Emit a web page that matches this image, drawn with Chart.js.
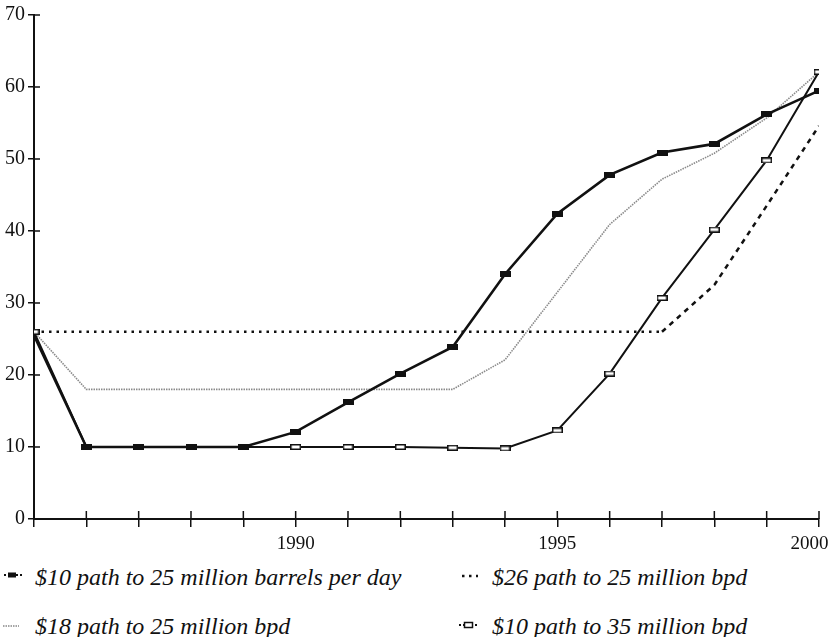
<!DOCTYPE html>
<html>
<head>
<meta charset="utf-8">
<script src="https://cdn.jsdelivr.net/npm/chart.js@4/dist/chart.umd.min.js"></script>
<style>
  html, body { margin: 0; padding: 0; background: #fff; }
  #wrap { position: relative; width: 833px; height: 637px; overflow: hidden; }
  #chartBox { position: absolute; left: 0; top: 0; width: 833px; height: 560px; }
  .lg { position: absolute; font-family: "Liberation Serif", "Times New Roman", serif; font-style: italic; font-size: 24px; color: #111; white-space: nowrap; line-height: 30px; }
  .mk { position: absolute; }
</style>
</head>
<body>
<div id="wrap">
  <div id="chartBox"><canvas id="oilChart"></canvas></div>

  <svg class="mk" style="left:2px; top:568px;" width="22" height="14">
    <line x1="2" y1="7" x2="20" y2="7" stroke="#111" stroke-width="2" stroke-dasharray="2 2"/>
    <rect x="6" y="4.5" width="8" height="5" fill="#111"/>
  </svg>
  <div class="lg" style="left:35px; top:562px;">$10 path to 25 million barrels per day</div>

  <svg class="mk" style="left:460px; top:568px;" width="22" height="14">
    <line x1="2" y1="8" x2="18" y2="8" stroke="#111" stroke-width="2.5" stroke-dasharray="2.5 4.5"/>
  </svg>
  <div class="lg" style="left:492px; top:562px;">$26 path to 25 million bpd</div>

  <svg class="mk" style="left:2px; top:618px;" width="22" height="14">
    <line x1="1" y1="8" x2="17" y2="8" stroke="#888" stroke-width="1.5" stroke-dasharray="1.5 1"/>
  </svg>
  <div class="lg" style="left:35px; top:611px;">$18 path to 25 million bpd</div>

  <svg class="mk" style="left:458px; top:618px;" width="24" height="14">
    <line x1="1" y1="7" x2="21" y2="7" stroke="#111" stroke-width="2" stroke-dasharray="2 2"/>
    <rect x="6.5" y="4.5" width="8" height="5" fill="#fff" stroke="#111" stroke-width="1.5"/>
  </svg>
  <div class="lg" style="left:492px; top:611px;">$10 path to 35 million bpd</div>
</div>

<script>
// values (million barrels per day vs year)
const years = [1985, 1986, 1987, 1988, 1989, 1990, 1991, 1992, 1993, 1994, 1995, 1996, 1997, 1998, 1999, 2000];
const path10to25 = [25.5, 10, 10, 10, 10, 12.1, 16.2, 20.2, 23.9, 34.0, 42.4, 47.8, 50.9, 52.1, 56.2, 59.5];
const path26to25 = [26, 26, 26, 26, 26, 26, 26, 26, 26, 26, 26, 26, 26, 32.5, 43.5, 54.6];
const path18to25 = [26, 18, 18, 18, 18, 18, 18, 18, 18, 22.1, 31.5, 40.9, 47.2, 50.8, 55.7, 62.1];
const path10to35 = [26, 10, 10, 10, 10, 10, 10, 10, 9.9, 9.8, 12.3, 20.2, 30.7, 40.2, 49.8, 62.1];
const xLabelYears = [1990, 1995, 2000];
const yTicks = [0, 10, 20, 30, 40, 50, 60, 70];

const SERIF = "'Liberation Serif', 'Times New Roman', serif";

function toPoints(vals) {
    return years.map((yr, i) => ({ x: yr, y: vals[i] }));
}

function makeMarker(w, h, fill, stroke) {
    const c = document.createElement("canvas");
    c.width = w;
    c.height = h;
    const g = c.getContext("2d");
    g.fillStyle = fill;
    g.fillRect(0, 0, w, h);
    if (stroke) {
        g.strokeStyle = stroke;
        g.lineWidth = 1.5;
        g.strokeRect(0.75, 0.75, w - 1.5, h - 1.5);
    }
    return c;
}

const filledRect = makeMarker(11, 6, "#111", null);
const hollowRect = makeMarker(11, 6, "#fff", "#111");

// year label; the last one sits against the page edge, so pad it to pull it left
function yearLabel(v) {
    if (!xLabelYears.includes(v)) return "";
    return v === 2000 ? "2000    " : String(v);
}

// short tick marks on the inner side of both axes
const innerTicks = {
    id: "innerTicks",
    afterDatasetsDraw(chart) {
        const { ctx, chartArea, scales } = chart;
        ctx.save();
        ctx.strokeStyle = "#111";
        ctx.lineWidth = 1.5;
        ctx.beginPath();
        scales.x.ticks.forEach(t => {
            const px = scales.x.getPixelForValue(t.value);
            ctx.moveTo(px, chartArea.bottom);
            ctx.lineTo(px, chartArea.bottom - 8);
        });
        scales.y.ticks.forEach(t => {
            const py = scales.y.getPixelForValue(t.value);
            ctx.moveTo(chartArea.left, py);
            ctx.lineTo(chartArea.left + 6, py);
        });
        ctx.stroke();
        ctx.restore();
    },
};

const ctx = document.getElementById("oilChart").getContext("2d");
new Chart(ctx, {
    type: "line",
    data: {
        datasets: [
            {
                label: "$10 path to 25 million barrels per day",
                data: toPoints(path10to25),
                borderColor: "#111",
                borderWidth: 2.6,
                pointStyle: filledRect,
                pointRadius: (c) => (c.dataIndex === 0 ? 0 : 5),
                tension: 0,
            },
            {
                label: "$10 path to 35 million bpd",
                data: toPoints(path10to35),
                borderColor: "#111",
                borderWidth: 2,
                pointStyle: hollowRect,
                pointRadius: 5,
                tension: 0,
            },
            {
                label: "$26 path to 25 million bpd",
                data: toPoints(path26to25),
                borderColor: "#111",
                borderWidth: 2.5,
                borderDash: [2.5, 5],
                pointRadius: 0,
                tension: 0,
                segment: {
                    borderDash: (s) => (s.p0DataIndex >= 12 ? [5, 5] : [2.5, 5]),
                },
            },
            {
                label: "$18 path to 25 million bpd",
                data: toPoints(path18to25),
                borderColor: "#8a8a8a",
                borderWidth: 1.6,
                borderDash: [1.5, 1],
                pointRadius: 0,
                tension: 0,
            },
        ],
    },
    options: {
        responsive: true,
        maintainAspectRatio: false,
        animation: false,
        events: [],
        layout: { padding: { top: 11, right: 14, left: 0, bottom: 0 } },
        plugins: { legend: { display: false }, tooltip: { enabled: false } },
        scales: {
            x: {
                type: "linear",
                min: 1985,
                max: 2000,
                afterFit: (s) => { s.height = 41; s.paddingRight = 0; s.paddingLeft = 0; },
                ticks: {
                    stepSize: 1,
                    color: "#111",
                    padding: 6,
                    maxRotation: 0,
                    autoSkip: false,
                    font: { family: SERIF, size: 19 },
                    callback: (v) => yearLabel(v),
                },
                grid: { drawOnChartArea: false, drawTicks: true, tickLength: 8, color: "#111", lineWidth: 1.5 },
                border: { display: true, color: "#111", width: 2 },
            },
            y: {
                min: 0,
                max: 70,
                afterFit: (s) => { s.width = 34; },
                afterBuildTicks: (s) => { s.ticks = yTicks.map(v => ({ value: v })); },
                ticks: {
                    color: "#111",
                    padding: 3,
                    font: { family: SERIF, size: 20 },
                },
                grid: { drawOnChartArea: false, drawTicks: true, tickLength: 6, color: "#111", lineWidth: 1.5 },
                border: { display: true, color: "#111", width: 2 },
            },
        },
    },
    plugins: [innerTicks],
});
</script>
</body>
</html>
